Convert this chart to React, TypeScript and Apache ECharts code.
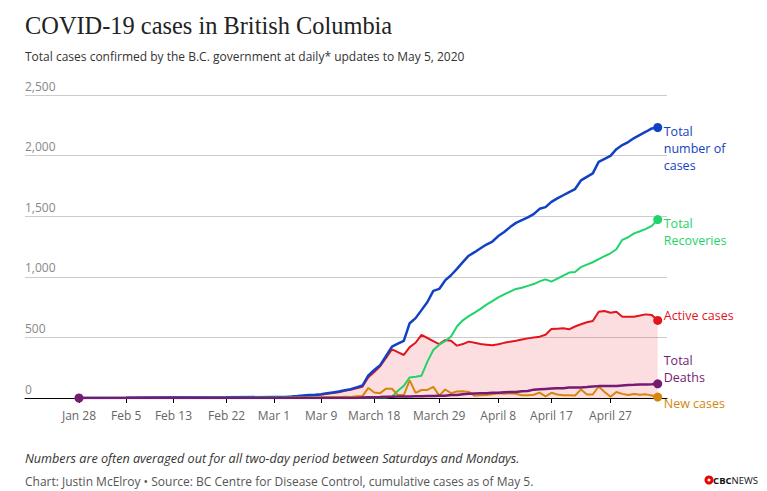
import React, { useEffect, useRef } from "react";
import * as echarts from "echarts";

// ---------- data ----------
const earlyDates = ["2020-01-28", "2020-02-05", "2020-02-13", "2020-02-22", "2020-03-01"];
const dailyStart = "2020-03-02";
const dailyEnd = "2020-05-05";

// early (5) + Mar 2–31 (30) + Apr 1–30 (30) + May 1–5 (5)
const totalCases = [
  1, 2, 5, 6, 8,
  8, 9, 12, 16, 21, 24, 27, 32, 39, 46, 53, 64, 73, 88, 103, 186, 231, 271, 348, 424, 448, 472, 617, 659, 725, 792, 884, 900, 970, 1013,
  1066, 1121, 1174, 1203, 1235, 1266, 1291, 1336, 1370, 1410, 1445, 1468, 1490, 1517, 1561, 1575, 1618, 1647, 1673, 1699, 1724, 1795, 1824, 1853, 1948, 1973, 1998, 2053, 2087, 2112,
  2145, 2171, 2197, 2224, 2232,
];
const recoveries = [
  0, 0, 1, 3, 4,
  4, 4, 4, 4, 4, 4, 4, 4, 4, 4, 4, 4, 4, 4, 4, 4, 4, 4, 5, 10, 60, 100, 170, 175, 184, 300, 396, 440, 469, 507,
  590, 641, 675, 705, 735, 770, 800, 830, 855, 878, 900, 910, 925, 940, 962, 979, 960, 985, 1010, 1035, 1039, 1080, 1100, 1120, 1145, 1170, 1194, 1227, 1305, 1326,
  1358, 1376, 1396, 1420, 1472,
];
const activeCases = [
  1, 2, 4, 3, 4,
  4, 5, 8, 12, 17, 20, 23, 27, 34, 41, 48, 59, 68, 80, 92, 171, 215, 262, 330, 402, 378, 355, 420, 456, 520, 495, 470, 445, 479, 473,
  432, 445, 465, 455, 445, 440, 435, 443, 455, 465, 473, 483, 492, 500, 506, 522, 569, 572, 575, 567, 590, 608, 625, 635, 712, 718, 704, 712, 671, 671,
  671, 680, 690, 685, 640,
];
const deaths = [
  0, 0, 0, 0, 0,
  0, 0, 0, 0, 0, 0, 0, 1, 1, 1, 1, 1, 1, 1, 4, 7, 7, 8, 10, 10, 12, 13, 13, 14, 14, 17, 17, 19, 19, 24,
  24, 31, 35, 38, 39, 39, 43, 43, 48, 50, 50, 55, 58, 69, 72, 75, 78, 81, 81, 86, 86, 87, 90, 94, 98, 100, 100, 100, 104, 108,
  109, 111, 112, 114, 117,
];
const newCases = [
  1, 0, 0, 0, 0,
  0, 1, 3, 4, 5, 3, 3, 5, 7, 7, 7, 11, 9, 15, 15, 83, 45, 40, 77, 76, 24, 24, 145, 42, 66, 67, 92, 20, 70, 40,
  53, 55, 50, 18, 22, 25, 30, 40, 34, 40, 35, 22, 22, 27, 44, 14, 43, 29, 22, 22, 20, 71, 29, 29, 95, 50, 10, 50, 34, 25,
  33, 26, 30, 20, 8,
];

const tickDates = [
  "2020-01-28", "2020-02-05", "2020-02-13", "2020-02-22", "2020-03-01", "2020-03-09",
  "2020-03-18", "2020-03-29", "2020-04-08", "2020-04-17", "2020-04-27",
];
const tickLabels = [
  "Jan 28", "Feb 5", "Feb 13", "Feb 22", "Mar 1", "Mar 9",
  "March 18", "March 29", "April 8", "April 17", "April 27",
];
const yTicks = [0, 500, 1000, 1500, 2000, 2500];

// ---------- helpers ----------
const DAY = 86400000;
const BASE = Date.UTC(2020, 0, 28);
function toDay(s: string): number {
  const [y, m, d] = s.split("-").map(Number);
  return Math.round((Date.UTC(y, m - 1, d) - BASE) / DAY);
}
function dayRange(a: string, b: string): number[] {
  const out: number[] = [];
  for (let d = toDay(a); d <= toDay(b); d++) out.push(d);
  return out;
}
const xs = [...earlyDates.map(toDay), ...dayRange(dailyStart, dailyEnd)];
const tickDays = tickDates.map(toDay);

const FONT = '"Open Sans", "DejaVu Sans", sans-serif';

function lineSeries(
  name: string,
  values: number[],
  color: string,
  width: number,
  label: string,
  dy: number,
  z: number,
  startDot = false,
  extra: any = {}
) {
  const n = values.length;
  return {
    type: "line",
    name,
    z,
    symbol: "none",
    showSymbol: true,
    silent: true,
    lineStyle: { color, width },
    itemStyle: { color },
    data: values.map((v, i) =>
      i === n - 1 || (startDot && i === 0)
        ? { value: [xs[i], v], symbol: "circle", symbolSize: 9 }
        : [xs[i], v]
    ),
    endLabel: {
      show: true,
      formatter: label,
      color,
      fontSize: 12.5,
      lineHeight: 17,
      fontFamily: FONT,
      align: "left",
      verticalAlign: "middle",
      distance: 6,
      offset: [0, dy],
    },
    ...extra,
  };
}

export default function App() {
  const ref = useRef<HTMLDivElement>(null);
  useEffect(() => {
    if (!ref.current) return;
    const chart = echarts.init(ref.current, undefined, { renderer: "svg" });
    const option: any = {
      animation: false,
      backgroundColor: "#fff",
      grid: { left: 25, right: 100, top: 95, bottom: 93 },
      xAxis: {
        type: "value",
        min: -9.14,
        max: 99.57,
        axisLine: { show: true, onZero: false, lineStyle: { color: "#000", width: 1 } },
        axisTick: { show: true, customValues: tickDays, length: 5, lineStyle: { color: "#000" } },
        axisLabel: {
          customValues: tickDays,
          color: "#666",
          fontSize: 12,
          fontFamily: FONT,
          margin: 11,
          formatter: (v: number) => {
            let best = 0;
            for (let i = 0; i < tickDays.length; i++) {
              if (Math.abs(tickDays[i] - v) < Math.abs(tickDays[best] - v)) best = i;
            }
            return tickLabels[best];
          },
        },
        splitLine: { show: false },
      },
      yAxis: {
        type: "value",
        min: yTicks[0],
        max: yTicks[yTicks.length - 1],
        interval: 500,
        axisLine: { show: false },
        axisTick: { show: false },
        splitLine: { show: true, lineStyle: { color: "#cccccc", width: 1 } },
        axisLabel: {
          inside: true,
          margin: 0,
          color: "#888",
          fontSize: 12,
          fontFamily: FONT,
          verticalAlign: "bottom",
          padding: [0, 0, 3, 0],
          formatter: (v: number) => v.toLocaleString("en-US"),
        },
      },
      series: [
        lineSeries("Active cases", activeCases, "#e3141c", 2, "Active cases", -5, 2, false, {
          areaStyle: { color: "rgba(232, 24, 34, 0.2)", origin: "start" },
        }),
        lineSeries("Total number of cases", totalCases, "#1242c4", 2.5, "Total\nnumber of\ncases", 21, 3),
        lineSeries("Total Recoveries", recoveries, "#1fd468", 2, "Total\nRecoveries", 12.5, 4),
        lineSeries("New cases", newCases, "#d4870c", 2, "New cases", 6, 5),
        lineSeries("Total Deaths", deaths, "#761b72", 2.5, "Total\nDeaths", -14.5, 6, true),
      ],
      graphic: [
        {
          type: "text",
          x: 25,
          y: 25,
          style: {
            text: "COVID-19 cases in British Columbia",
            fill: "#222",
            font: '24.4px "Liberation Serif", serif',
            textVerticalAlign: "middle",
            verticalAlign: "middle",
          },
        },
        {
          type: "text",
          x: 25,
          y: 56,
          style: {
            text: "Total cases confirmed by the B.C. government at daily* updates to May 5, 2020",
            fill: "#333",
            font: '12px "Open Sans", sans-serif',
            textVerticalAlign: "middle",
            verticalAlign: "middle",
          },
        },
        {
          type: "text",
          x: 25,
          y: 458,
          style: {
            text: "Numbers are often averaged out for all two-day period between Saturdays and Mondays.",
            fill: "#333",
            font: 'italic 12.6px "Open Sans", sans-serif',
            textVerticalAlign: "middle",
            verticalAlign: "middle",
          },
        },
        {
          type: "text",
          x: 25,
          y: 481,
          style: {
            text: "Chart: Justin McElroy \u2022 Source: BC Centre for Disease Control, cumulative cases as of May 5.",
            fill: "#555",
            font: '12px "Open Sans", sans-serif',
            textVerticalAlign: "middle",
            verticalAlign: "middle",
          },
        },
        {
          type: "ring",
          shape: { cx: 709, cy: 480, r: 4.5, r0: 1.5 },
          style: { fill: "#e60505" },
        },
        {
          type: "text",
          x: 758,
          y: 480,
          style: {
            text: "{b|CBC}{n|NEWS}",
            rich: {
              b: { fontFamily: '"Open Sans", sans-serif', fontWeight: "bold", fontSize: 9.5, fill: "#111", color: "#111" },
              n: { fontFamily: '"Open Sans", sans-serif', fontSize: 9.5, fill: "#111", color: "#111" },
            },
            textAlign: "right",
            align: "right",
            textVerticalAlign: "middle",
            verticalAlign: "middle",
          },
        },
      ],
    };
    chart.setOption(option);
    return () => chart.dispose();
  }, []);
  return (
    <div
      ref={ref}
      style={{ position: "absolute", left: 0, top: 0, width: 767, height: 491 }}
    />
  );
}
